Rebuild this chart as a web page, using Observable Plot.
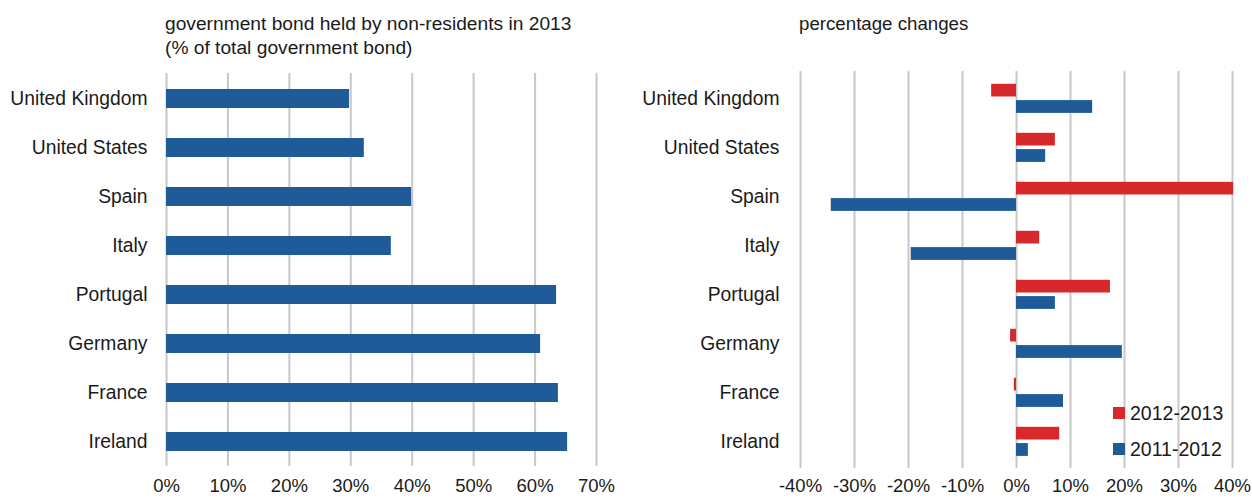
<!DOCTYPE html>
<html>
<head>
<meta charset="utf-8">
<script src="https://cdn.jsdelivr.net/npm/d3@7"></script>
<script src="https://cdn.jsdelivr.net/npm/@observablehq/plot@0.6"></script>
<style>
  html, body { margin: 0; padding: 0; background: #fff; }
  #root { position: relative; width: 1252px; height: 499px; overflow: hidden; font-family: "Liberation Sans", Arial, sans-serif; color: #1a1a1a; }
  .title { position: absolute; font-size: 19.2px; line-height: 24px; white-space: nowrap; }
  .panel { position: absolute; top: 60px; }
  .leg { position: absolute; font-size: 19.5px; line-height: 20px; white-space: nowrap; }
  .sw { position: absolute; width: 12px; height: 12px; }
</style>
</head>
<body>
<div id="root">
  <div class="title" style="left:165px; top:12px;">government bond held by non-residents in 2013<br>(% of total government bond)</div>
  <div class="title" style="left:799px; top:12px; font-size:18.7px;">percentage changes</div>
  <div class="panel" id="left" style="left:0px;"></div>
  <div class="panel" id="right" style="left:620px;"></div>
  <div class="sw" style="left:1113px; top:407px; background:#d7292c;"></div>
  <div class="leg" style="left:1130px; top:403px;">2012-2013</div>
  <div class="sw" style="left:1113px; top:443px; background:#1f5a99;"></div>
  <div class="leg" style="left:1130px; top:439px;">2011-2012</div>
</div>
<script>
const countries = ["United Kingdom", "United States", "Spain", "Italy", "Portugal", "Germany", "France", "Ireland"];
const held2013 = [29.8, 32.2, 39.9, 36.6, 63.5, 60.9, 63.8, 65.3];
const change2012_2013 = [-4.6, 7.2, 40.2, 4.3, 17.4, -1.1, -0.4, 8.0];
const change2011_2012 = [14.1, 5.4, -34.3, -19.5, 7.2, 19.6, 8.7, 2.2];
const leftTicks = [0, 10, 20, 30, 40, 50, 60, 70];
const rightTicks = [-40, -30, -20, -10, 0, 10, 20, 30, 40];

const blue = "#1f5a99";
const red = "#d7292c";
const gridColor = "#c8c8c8";
const font = {fontFamily: "'Liberation Sans', Arial, sans-serif", fontSize: "19.3px", color: "#1a1a1a", background: "transparent", overflow: "visible"};

const leftData = countries.map((c, i) => ({country: c, value: held2013[i]}));
const rightData = countries.map((c, i) => ({country: c, a: change2012_2013[i], b: change2011_2012[i]}));

const left = Plot.plot({
  width: 626, height: 439,
  marginLeft: 166, marginRight: 30, marginTop: 13, marginBottom: 33,
  style: font,
  x: {domain: [0, 70]},
  y: {domain: countries, padding: 0},
  marks: [
    Plot.gridX(leftTicks, {stroke: gridColor, strokeOpacity: 1, strokeWidth: 2}),
    Plot.barX(leftData, {x: "value", y: "country", fill: blue, insetTop: 15, insetBottom: 15}),
    Plot.axisX(leftTicks, {tickSize: 0, tickPadding: 12, fontSize: 18.5, tickFormat: d => d + "%", label: null}),
    Plot.axisY({tickSize: 0, tickPadding: 19, label: null})
  ]
});
document.getElementById("left").appendChild(left);

const right = Plot.plot({
  width: 632, height: 439,
  marginLeft: 180, marginRight: 20, marginTop: 11, marginBottom: 31,
  style: font,
  x: {domain: [-40, 40]},
  y: {domain: countries, padding: 0},
  marks: [
    Plot.gridX(rightTicks, {stroke: gridColor, strokeOpacity: 1, strokeWidth: 2}),
    Plot.barX(rightData, {x: "a", y: "country", fill: red, insetTop: 9.8, insetBottom: 26.5}),
    Plot.barX(rightData, {x: "b", y: "country", fill: blue, insetTop: 26.1, insetBottom: 10.1}),
    Plot.axisX(rightTicks, {tickSize: 0, tickPadding: 10, fontSize: 18.5, tickFormat: d => d + "%", label: null}),
    Plot.axisY({tickSize: 0, tickPadding: 21, label: null})
  ]
});
document.getElementById("right").appendChild(right);
</script>
</body>
</html>
